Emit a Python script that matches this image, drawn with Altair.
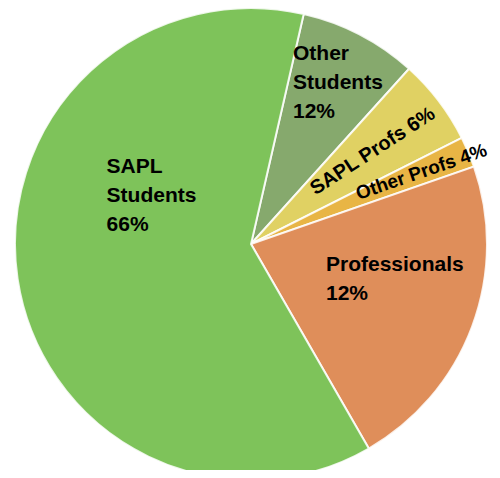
import math
import altair as alt
import pandas as pd

# Slice data (share of the circle), clockwise from the first boundary
categories = ["Other Students", "SAPL Profs", "Other Profs", "Professionals", "SAPL Students"]
shares = [8.1, 5.9, 2.1, 22.0, 61.9]
labels = ["Other\nStudents\n12%", "SAPL Profs 6%", "Other Profs 4%", "Professionals\n12%", "SAPL\nStudents\n66%"]
colors = ["#86a96d", "#e0d163", "#e8b545", "#df8e5a", "#7ec35a"]

df = pd.DataFrame({
    "cat": categories,
    "share": shares,
    "label": labels,
    "idx": list(range(len(categories))),
})

start = math.radians(12.9)
theta_scale = alt.Scale(range=[start, start + 2 * math.pi])
CX, CY = 243, 236

base = alt.Chart(df).encode(
    theta=alt.Theta("share:Q", stack=True, scale=theta_scale),
    order=alt.Order("idx:Q"),
    x=alt.value(CX),
    y=alt.value(CY),
)

pie = base.mark_arc(outerRadius=236, stroke="white", strokeWidth=2, strokeOpacity=0.85).encode(
    color=alt.Color("cat:N", scale=alt.Scale(domain=categories, range=colors), legend=None)
)

FONT = "Liberation Sans"

def label_layer(cat, radius, dx=0, dy=0, align="left", angle=0, size=21):
    kw = dict(radius=radius, dx=dx, dy=dy, align=align, baseline="middle",
              font=FONT, fontWeight="bold", fontSize=size, lineBreak="\n",
              lineHeight=29, color="black")
    if angle:
        kw["angle"] = angle
    return base.mark_text(**kw).encode(
        text=alt.condition(f"datum.cat == '{cat}'", "label:N", alt.value(""))
    )

layers = [
    pie,
    label_layer("SAPL Students", 146, dx=0, dy=-99),
    label_layer("Other Students", 182, dx=-42, dy=-29),
    label_layer("Professionals", 80, dx=0, dy=-7),
    label_layer("SAPL Profs", 153, align="center", angle=327, size=20),
    label_layer("Other Profs", 185, align="center", angle=341, size=19),
]

chart = alt.layer(*layers).properties(
    width=484, height=462,
    padding=0,
    autosize=alt.AutoSizeParams(type="none"),
).configure_view(stroke=None)

chart.save("out.html", embed_options={"renderer": "svg", "actions": False})
